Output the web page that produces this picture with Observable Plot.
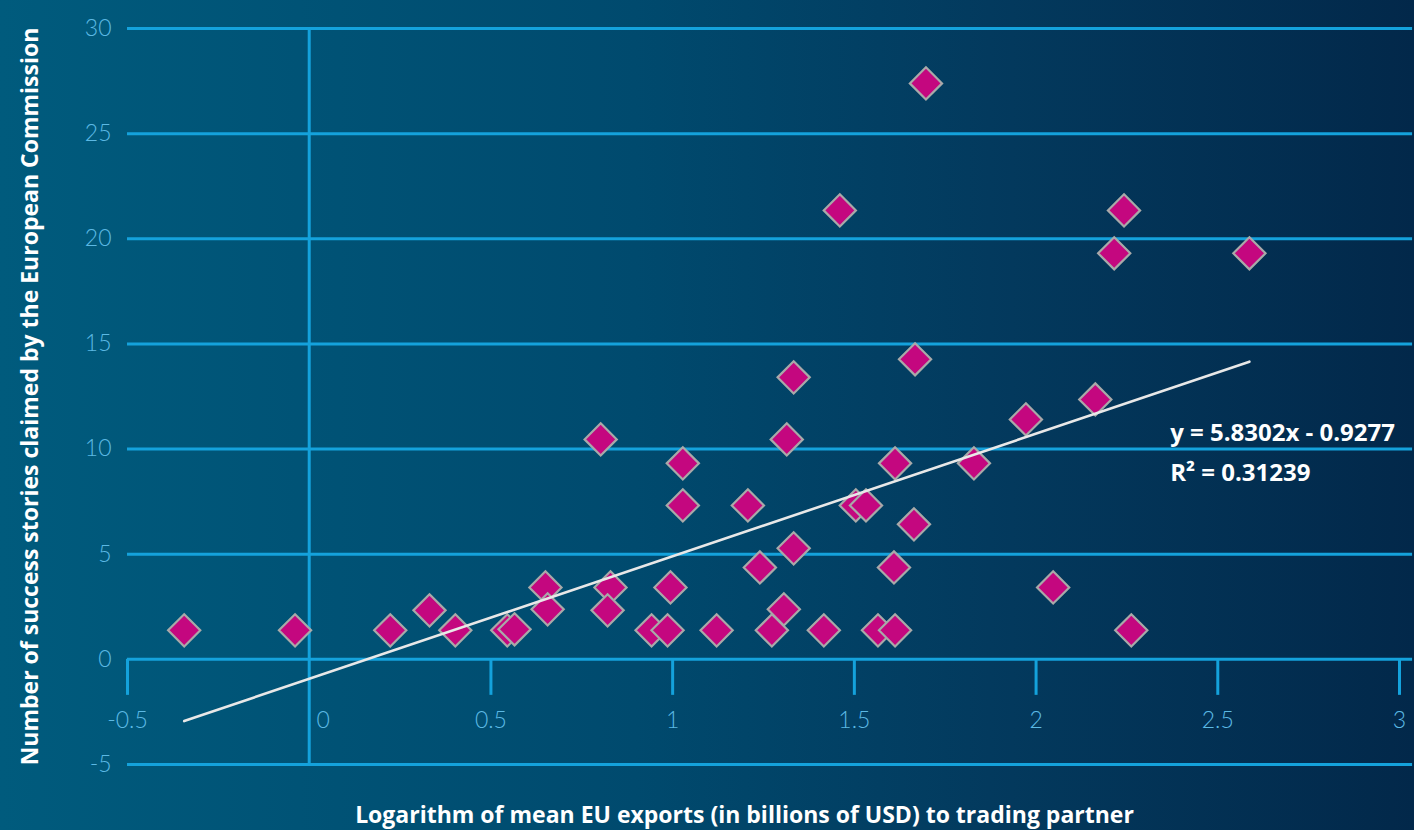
<!DOCTYPE html>
<html>
<head>
<meta charset="utf-8">
<script src="https://cdn.jsdelivr.net/npm/d3@7"></script>
<script src="https://cdn.jsdelivr.net/npm/@observablehq/plot@0.6"></script>
<style>
  html, body { margin: 0; padding: 0; background: #03294a; }
  #chart svg { display: block; }
</style>
</head>
<body>
<div id="chart"></div>
<script>
// Log of mean EU exports to each trading partner (x) and number of success stories (y)
const logExports = [
  -0.344, -0.039, 0.223, 0.331, 0.402, 0.545, 0.565, 0.650, 0.656, 0.802,
  0.829, 0.821, 0.942, 0.986, 0.994, 1.028, 1.028, 1.121, 1.207, 1.240,
  1.273, 1.306, 1.314, 1.333, 1.333, 1.416, 1.460, 1.504, 1.532, 1.565,
  1.612, 1.609, 1.612, 1.667, 1.664, 1.697, 1.829, 1.972, 2.047, 2.163,
  2.215, 2.242, 2.262, 2.587
];
const successStories = [
  1.38, 1.38, 1.38, 2.33, 1.38, 1.38, 1.43, 3.42, 2.38, 10.46,
  3.42, 2.33, 1.38, 1.38, 3.42, 9.32, 7.32, 1.38, 7.32, 4.37,
  1.38, 2.38, 10.46, 13.41, 5.28, 1.38, 21.35, 7.32, 7.32, 1.38,
  1.38, 4.37, 9.32, 14.27, 6.42, 27.39, 9.32, 11.41, 3.42, 12.36,
  19.31, 21.35, 1.38, 19.31
];

// Linear trend as reported on the chart
const slope = 5.8302;
const intercept = -0.9277;
const rSquared = "0.31239";

const xTicks = [-0.5, 0, 0.5, 1, 1.5, 2, 2.5, 3];
const yTicks = [-5, 0, 5, 10, 15, 20, 25, 30];

const points = logExports.map((x, i) => ({x, y: successStories[i]}));
const [xMin, xMax] = d3.extent(logExports);
const trend = [xMin, xMax].map(x => ({x, y: slope * x + intercept}));

const grid = "#14a2dc";
const tickText = "#5cb9e4";
const tickFont = "Lato, 'Open Sans', sans-serif";
const titleFont = "'Open Sans', Lato, sans-serif";

const chart = Plot.plot({
  width: 1414,
  height: 830,
  marginLeft: 127,
  marginRight: 15,
  marginTop: 28,
  marginBottom: 66,
  x: {domain: [-0.5, 3], axis: null},
  y: {domain: [-5, 30], axis: null},
  style: {
    background: "linear-gradient(90deg, #005b7d 0%, #004a6e 45%, #033a5e 70%, #02284a 100%)",
    fontFamily: tickFont
  },
  marks: [
    // horizontal gridlines
    Plot.ruleY(yTicks, {x1: -0.5, x2: 3.036, stroke: grid, strokeWidth: 3}),
    // vertical line at x = 0
    Plot.ruleX([0], {y1: -5, y2: 30, stroke: grid, strokeWidth: 3}),
    // downward ticks on the zero line
    Plot.ruleX(xTicks.filter(d => d !== 0), {
      x: d => d, y1: 0, y2: 0, insetBottom: -36, stroke: grid, strokeWidth: 3
    }),
    // x tick labels
    Plot.text(xTicks.filter(d => d !== 0), {
      x: d => d, y: 0, dy: 61, text: d => String(d),
      fill: tickText, fontSize: 23, fontWeight: 300
    }),
    Plot.text([0], {
      x: d => d, y: 0, dy: 61, dx: 14, text: d => String(d),
      fill: tickText, fontSize: 23, fontWeight: 300
    }),
    // y tick labels
    Plot.text(yTicks, {
      x: -0.5, y: d => d, dx: -16, text: d => String(d), textAnchor: "end",
      fill: tickText, fontSize: 23, fontWeight: 300
    }),
    // data points
    Plot.dot(points, {
      x: "x", y: "y", symbol: "diamond2", r: 14.5,
      fill: "#c4077f", stroke: "#a9a9a9", strokeWidth: 2.2
    }),
    // trend line
    Plot.line(trend, {x: "x", y: "y", stroke: "#e8e8e8", strokeWidth: 2.6}),
    // equation
    Plot.text([`y = ${slope}x - ${Math.abs(intercept)}\nR² = ${rSquared}`], {
      x: 2.369, y: 10.03, text: d => d, textAnchor: "start", lineAnchor: "middle",
      lineHeight: 1.68, fill: "white", fontSize: 24, fontWeight: "bold",
      fontFamily: titleFont
    }),
    // axis titles
    Plot.text(["Number of success stories claimed by the European Commission"], {
      frameAnchor: "left", dx: -97, rotate: -90, text: d => d,
      textAnchor: "middle", lineAnchor: "middle",
      fill: "white", fontSize: 23, fontWeight: "bold", fontFamily: titleFont
    }),
    Plot.text(["Logarithm of mean EU exports (in billions of USD) to trading partner"], {
      frameAnchor: "bottom", dx: -19, dy: 51, text: d => d,
      textAnchor: "middle", lineAnchor: "middle",
      fill: "white", fontSize: 23, fontWeight: "bold", fontFamily: titleFont
    })
  ]
});

document.getElementById("chart").appendChild(chart);
</script>
</body>
</html>
